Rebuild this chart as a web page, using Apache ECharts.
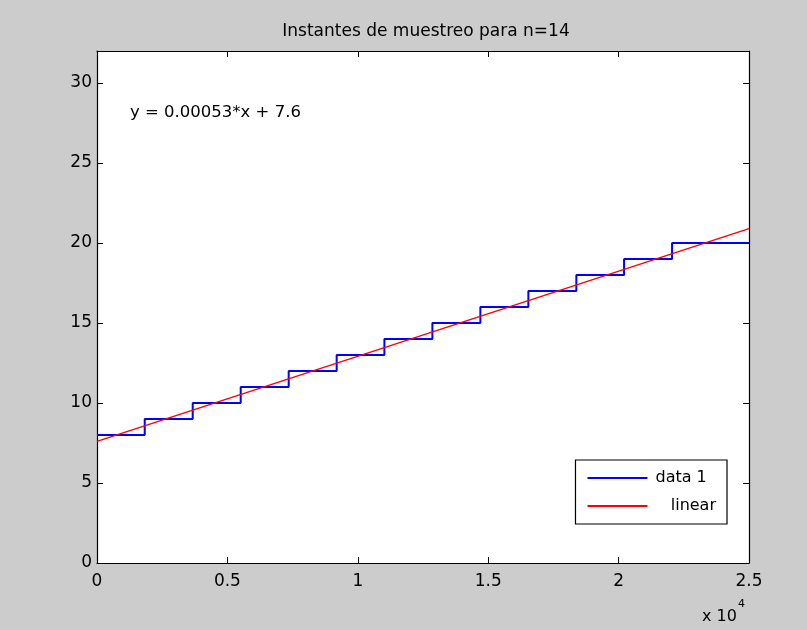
<!DOCTYPE html>
<html>
<head>
<meta charset="utf-8">
<script src="https://cdn.jsdelivr.net/npm/echarts@6/dist/echarts.min.js"></script>
<style>
  html, body { margin: 0; padding: 0; background: #cccccc; }
  #chart { width: 807px; height: 630px; }
</style>
</head>
<body>
<div id="chart"></div>
<script>
// Sampling instants (x) and the quantised level held from each instant on
const stepX = [0, 1830, 3670, 5510, 7350, 9190, 11020, 12860, 14700, 16540, 18380, 20210, 22050, 25000];
const stepY = [8, 9, 10, 11, 12, 13, 14, 15, 16, 17, 18, 19, 20, 20];

// Least-squares line through the staircase
const fitSlope = 0.000532;
const fitIntercept = 7.6;
const fitX = [0, 25000];

// Axis ranges and ticks
const xMin = 0, xMax = 25000, xStep = 5000;
const yMin = 0, yMax = 32, yStep = 5;
const xTickLabels = ['0', '0.5', '1', '1.5', '2', '2.5'];

const titleText = 'Instantes de muestreo para n=14';
const seriesNames = ['data 1', '   linear'];

const stepData = stepX.map((x, i) => [x, stepY[i]]);
const fitData = fitX.map(x => [x, fitIntercept + fitSlope * x]);
const eqText = 'y = ' + fitSlope.toPrecision(2) + '*x + ' + fitIntercept;

const FONT = '"DejaVu Sans", Verdana, sans-serif';
const grid = { left: 97, right: 58, top: 51, bottom: 67 };

const axisCommon = {
  axisLine: { show: true, onZero: false, lineStyle: { color: '#000', width: 1.2 } },
  axisTick: { show: true, inside: true, length: 6, lineStyle: { color: '#000', width: 1 } },
  splitLine: { show: false }
};

const chart = echarts.init(document.getElementById('chart'), null, { renderer: 'canvas' });
chart.setOption({
  animation: false,
  backgroundColor: '#cccccc',
  title: {
    text: titleText,
    left: 421,
    top: 18,
    textAlign: 'center',
    textStyle: { fontFamily: FONT, fontSize: 17, fontWeight: 'normal', color: '#000' }
  },
  grid: Object.assign({ backgroundColor: '#ffffff', show: true, borderWidth: 0 }, grid),
  legend: {
    right: 80,
    top: 460,
    orient: 'vertical',
    data: seriesNames,
    icon: 'rect',
    itemWidth: 60,
    itemHeight: 2,
    itemGap: 12,
    padding: [10, 11, 10, 12],
    backgroundColor: '#ffffff',
    borderColor: '#000',
    borderWidth: 1.2,
    borderRadius: 0,
    textStyle: { fontFamily: FONT, fontSize: 16, color: '#000', padding: [0, 0, 0, 3] }
  },
  xAxis: [
    Object.assign({
      type: 'value', position: 'bottom', min: xMin, max: xMax, interval: xStep,
      axisLabel: {
        margin: 10, fontFamily: FONT, fontSize: 17, color: '#000',
        formatter: v => xTickLabels[Math.round((v - xMin) / xStep)]
      }
    }, axisCommon),
    Object.assign({
      type: 'value', position: 'top', min: xMin, max: xMax, interval: xStep,
      axisLabel: { show: false }
    }, axisCommon)
  ],
  yAxis: [
    Object.assign({
      type: 'value', position: 'left', min: yMin, max: yMax, interval: yStep,
      axisLabel: {
        margin: 5, fontFamily: FONT, fontSize: 17, color: '#000',
        showMaxLabel: false
      }
    }, axisCommon),
    Object.assign({
      type: 'value', position: 'right', min: yMin, max: yMax, interval: yStep,
      axisLabel: { show: false }
    }, axisCommon)
  ],
  series: [
    {
      name: seriesNames[0],
      type: 'line',
      step: 'end',
      data: stepData,
      showSymbol: false,
      symbol: 'none',
      lineStyle: { color: '#0000ff', width: 2 },
      itemStyle: { color: '#0000ff' },
      clip: true
    },
    {
      name: seriesNames[1],
      type: 'line',
      data: fitData,
      showSymbol: false,
      symbol: 'none',
      lineStyle: { color: '#ff0000', width: 1.5 },
      itemStyle: { color: '#ff0000' },
      clip: true
    }
  ],
  graphic: [
    {
      type: 'text',
      left: 130,
      top: 104,
      style: { text: eqText, fontFamily: FONT, fontSize: 16.5, fill: '#000' }
    },
    {
      type: 'text',
      left: 702,
      top: 599,
      style: {
        text: '{b|x 10}{s|4}',
        rich: {
          b: { fontFamily: FONT, fontSize: 16, fill: '#000', verticalAlign: 'bottom', lineHeight: 26 },
          s: { fontFamily: FONT, fontSize: 11, fill: '#000', verticalAlign: 'top', lineHeight: 26, padding: [0, 0, 12, 1] }
        }
      }
    }
  ]
});
</script>
</body>
</html>
